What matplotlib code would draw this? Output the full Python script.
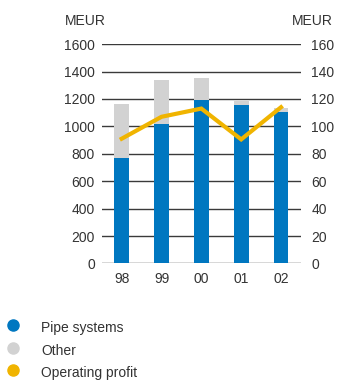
import matplotlib
matplotlib.use("Agg")
import matplotlib.pyplot as plt
from matplotlib.lines import Line2D

years = ["98", "99", "00", "01", "02"]
pipe_systems = [770, 1020, 1195, 1156, 1105]
other = [390, 320, 160, 30, 30]
operating_profit = [91, 107, 113, 90.5, 114]
left_ticks = [0, 200, 400, 600, 800, 1000, 1200, 1400, 1600]
right_ticks = [0, 20, 40, 60, 80, 100, 120, 140, 160]

BLUE = "#0077C0"
GREY = "#D2D2D2"
YELLOW = "#F0B400"
TXT = "#333333"

plt.rcParams['font.family'] = ['Liberation Sans', 'DejaVu Sans']

fig = plt.figure(figsize=(3.37, 3.84), dpi=100)
ax = fig.add_axes([0.302, 0.314, 0.591, 0.571])
x = range(len(years))

for v in left_ticks:
    ax.axhline(v, color="#3a3a3a", lw=1.0, zorder=0)

ax.bar(x, pipe_systems, width=0.37, color=BLUE, zorder=2)
ax.bar(x, other, width=0.37, bottom=pipe_systems, color=GREY, zorder=2)

ax.set_xlim(-0.5, 4.5)
ax.set_ylim(0, 1600)
ax.set_yticks(left_ticks)
ax.set_xticks(list(x))
ax.set_xticklabels(years)
for s in ax.spines.values():
    s.set_visible(False)
ax.tick_params(axis='both', length=0, labelsize=10, colors=TXT)
ax.tick_params(axis='y', pad=5)
ax.tick_params(axis='x', pad=6)

ax2 = ax.twinx()
ax2.set_ylim(0, 160)
ax2.set_yticks(right_ticks)
for s in ax2.spines.values():
    s.set_visible(False)
ax2.tick_params(axis='y', length=0, labelsize=10, colors=TXT, pad=7.5)
ax2.plot(list(x), operating_profit, color=YELLOW, lw=3.0, zorder=3,
         solid_joinstyle='miter', clip_on=False)

fig.text(65/337, 1 - 21/384, "MEUR", fontsize=10, color=TXT, ha='left', va='center')
fig.text(333/337, 1 - 21/384, "MEUR", fontsize=10, color=TXT, ha='right', va='center')

legend_items = [("Pipe systems", BLUE), ("Other", GREY), ("Operating profit", YELLOW)]
ys = [328, 351, 373]
for (label, c), yy in zip(legend_items, ys):
    fig.add_artist(Line2D([13/337], [1 - (yy - 3)/384], marker='o', markersize=8,
                          color=c, linestyle='none', transform=fig.transFigure))
    fig.text(41/337, 1 - yy/384, label, fontsize=10, color=TXT, ha='left', va='center')

fig.savefig("out.png", dpi=100)
